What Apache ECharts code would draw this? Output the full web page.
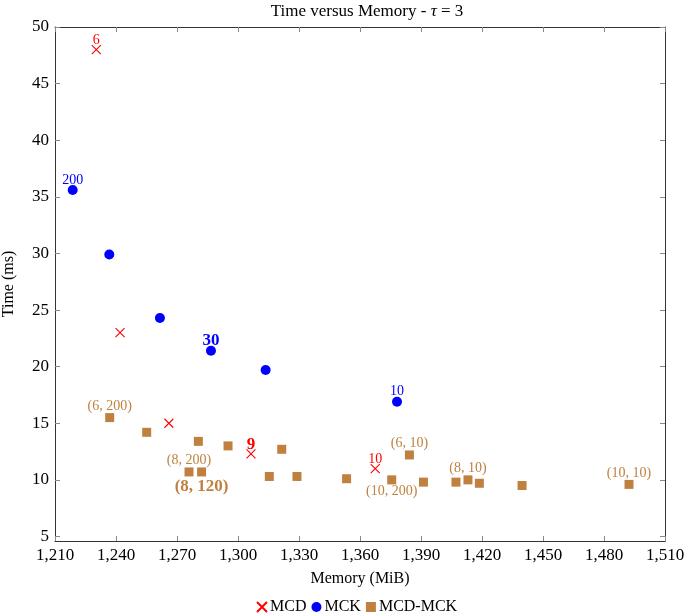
<!DOCTYPE html>
<html><head><meta charset="utf-8">
<script src="https://cdn.jsdelivr.net/npm/echarts@6/dist/echarts.min.js"></script>
<style>html,body{margin:0;padding:0;background:#fff}#c{width:685px;height:613px}</style>
</head><body><div id="c"></div>
<script>
// ---- data ----
const mcdMemory = [1230.3, 1242.0, 1266.0, 1306.4, 1367.5];
const mcdTime   = [48.0, 23.0, 15.0, 12.3, 11.0];
const mcdLabels = ['6', '', '', '9', '10'];

const mckMemory = [1218.7, 1236.7, 1261.6, 1286.7, 1313.6, 1378.2];
const mckTime   = [35.6, 29.9, 24.3, 21.4, 19.7, 16.9];
const mckLabels = ['200', '', '', '30', '', '10'];

const mixMemory = [1236.9, 1255.1, 1275.9, 1280.5, 1282.1, 1295.1, 1315.4, 1321.5, 1329.0, 1353.4, 1375.6, 1384.3, 1391.2, 1407.2, 1413.1, 1418.7, 1439.7, 1492.3];
const mixTime   = [15.5, 14.2, 10.7, 13.4, 10.7, 13.0, 10.3, 12.7, 10.3, 10.1, 10.0, 12.2, 9.8, 9.8, 10.0, 9.7, 9.5, 9.6];
const mixLabels = ['(6, 200)', '', '(8, 200)', '', '(8, 120)', '', '', '', '', '', '(10, 200)', '(6, 10)', '', '', '(8, 10)', '', '', '(10, 10)'];

const xTicks = [1210, 1240, 1270, 1300, 1330, 1360, 1390, 1420, 1450, 1480, 1510];
const yTicks = [5, 10, 15, 20, 25, 30, 35, 40, 45, 50];

// ---- style rules (by label text) ----
const boldLabels = { mcd: ['9'], mck: ['30'], mix: ['(8, 120)'] };
const belowLabels = { mix: ['(8, 120)', '(10, 200)'] };
const labelShift = { mcd: -3, mck: -2, mix: 0 };

const FONT = '"Liberation Serif", "Times New Roman", serif';

function buildData(xs, ys, labels, key, color) {
  return xs.map((x, i) => {
    const t = labels[i];
    const item = { value: [x, ys[i]] };
    if (t) {
      const bold = (boldLabels[key] || []).includes(t);
      const below = (belowLabels[key] || []).includes(t);
      item.label = {
        show: true,
        formatter: t,
        position: below ? 'bottom' : 'top',
        distance: (bold ? (below ? 2 : -1) : 0) + (below ? 0 : labelShift[key]),
        color: color,
        fontFamily: FONT,
        fontSize: bold ? 17 : 14,
        fontWeight: bold ? 'bold' : 'normal'
      };
    }
    return item;
  });
}

const fmt = v => v.toLocaleString('en-US');
const axisLineStyle = { color: '#333', width: 1 };
const tickStyle = { color: '#888', width: 1 };

const chart = echarts.init(document.getElementById('c'), null, { renderer: 'canvas' });
chart.setOption({
  animation: false,
  backgroundColor: '#fff',
  title: {
    text: 'Time versus Memory - {t|τ} = 3',
    left: 362, top: -2, textAlign: 'center',
    textStyle: {
      fontFamily: FONT, fontSize: 17, fontWeight: 'normal', color: '#000',
      rich: { t: { fontFamily: FONT, fontSize: 17, fontStyle: 'italic', color: '#000' } }
    }
  },
  legend: {
    top: 594, left: 251,
    itemWidth: 10, itemHeight: 10, itemGap: 5,
    textStyle: { fontFamily: FONT, fontSize: 16, color: '#000', padding: [0, 0, 0, -2] },
    data: ['MCD', 'MCK', 'MCD-MCK']
  },
  grid: { left: 55, right: 20, top: 27, bottom: 72, containLabel: false, outerBoundsMode: 'none' },
  xAxis: [{
    type: 'value', min: 1210, max: 1510, position: 'bottom',
    name: 'Memory (MiB)', nameLocation: 'middle', nameGap: 30,
    nameTextStyle: { fontFamily: FONT, fontSize: 16, color: '#000' },
    axisLine: { show: true, onZero: false, lineStyle: axisLineStyle },
    axisTick: { show: true, inside: true, length: 5, lineStyle: tickStyle, customValues: xTicks },
    axisLabel: { show: true, customValues: xTicks, formatter: fmt, margin: 6,
      fontFamily: FONT, fontSize: 17, color: '#000' },
    splitLine: { show: false }
  }, {
    type: 'value', min: 1210, max: 1510, position: 'top',
    axisLine: { show: true, onZero: false, lineStyle: axisLineStyle },
    axisTick: { show: true, inside: true, length: 5, lineStyle: tickStyle, customValues: xTicks },
    axisLabel: { show: false },
    splitLine: { show: false }
  }],
  yAxis: [{
    type: 'value', min: 4.6, max: 50, position: 'left',
    name: 'Time (ms)', nameLocation: 'middle', nameGap: 38, nameRotate: 90,
    nameTextStyle: { fontFamily: FONT, fontSize: 16, color: '#000' },
    axisLine: { show: true, onZero: false, lineStyle: axisLineStyle },
    axisTick: { show: true, inside: true, length: 5, lineStyle: tickStyle, customValues: yTicks },
    axisLabel: { show: true, customValues: yTicks, margin: 6,
      fontFamily: FONT, fontSize: 17, color: '#000' },
    splitLine: { show: false }
  }, {
    type: 'value', min: 4.6, max: 50, position: 'right',
    axisLine: { show: true, onZero: false, lineStyle: axisLineStyle },
    axisTick: { show: true, inside: true, length: 5, lineStyle: tickStyle, customValues: yTicks },
    axisLabel: { show: false },
    splitLine: { show: false }
  }],
  series: [{
    name: 'MCD', type: 'scatter',
    symbol: 'path://M0,0L10,10M0,10L10,0', symbolSize: 9,
    itemStyle: { color: 'rgba(255,0,0,0)', borderColor: '#ff0000', borderWidth: 1.1, opacity: 1 },
    data: buildData(mcdMemory, mcdTime, mcdLabels, 'mcd', '#ff0000'),
    z: 3
  }, {
    name: 'MCK', type: 'scatter',
    symbol: 'circle', symbolSize: 10,
    itemStyle: { color: '#0000ff', opacity: 1 },
    data: buildData(mckMemory, mckTime, mckLabels, 'mck', '#0000ff'),
    z: 3
  }, {
    name: 'MCD-MCK', type: 'scatter',
    symbol: 'rect', symbolSize: 9,
    itemStyle: { color: '#bf8040', opacity: 1 },
    data: buildData(mixMemory, mixTime, mixLabels, 'mix', '#bf8040'),
    z: 2
  }]
});
</script>
</body></html>
